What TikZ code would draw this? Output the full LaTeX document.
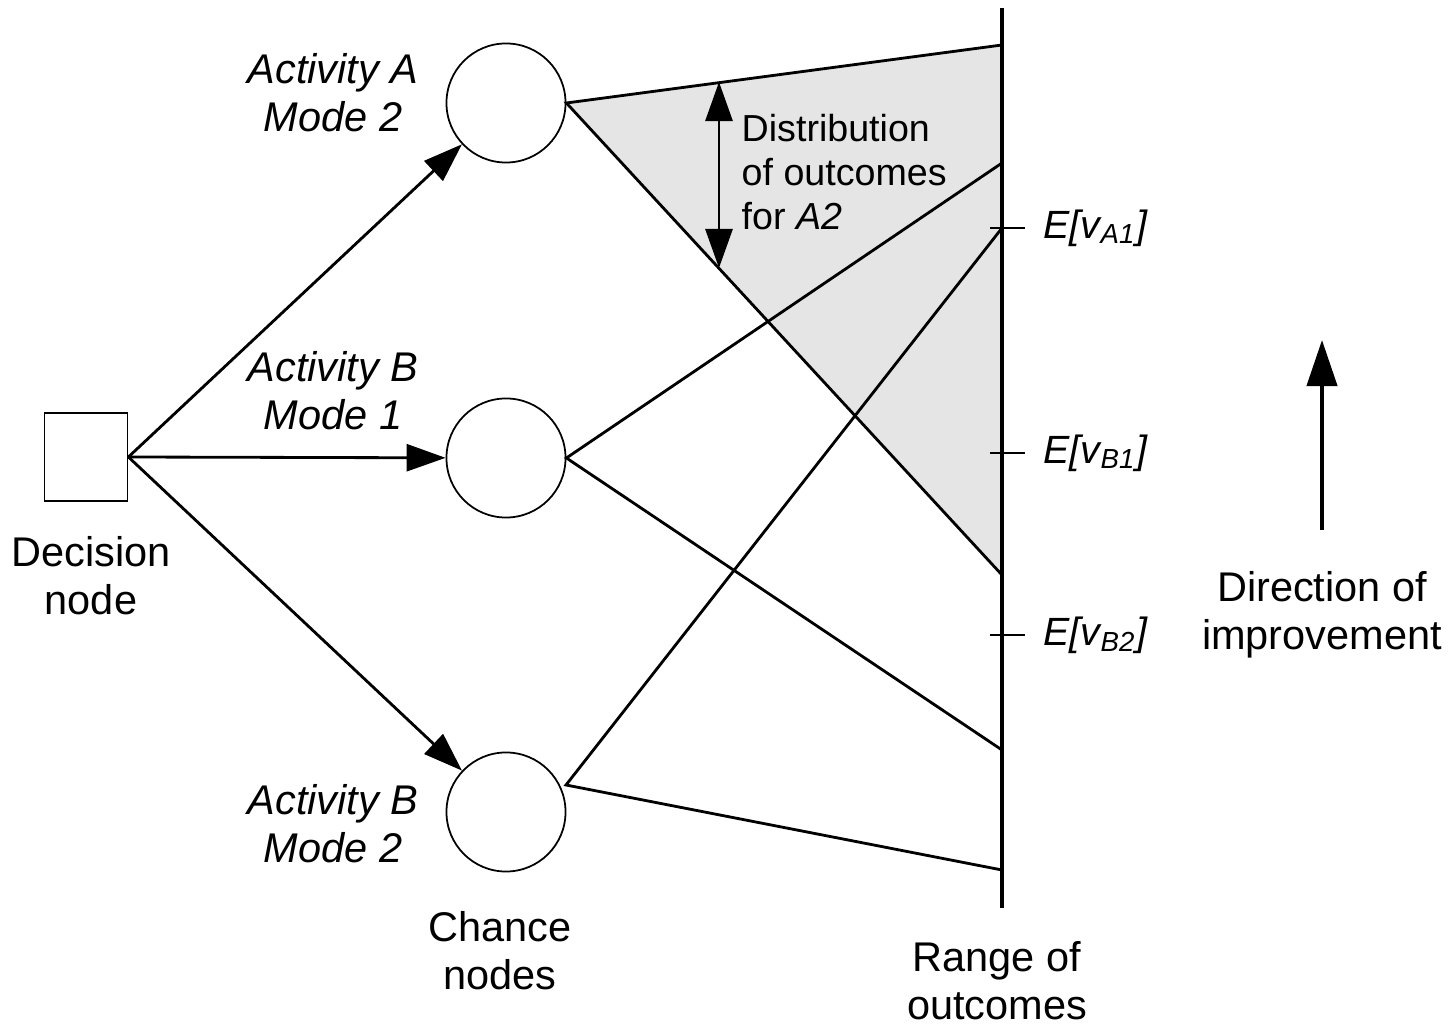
\documentclass[tikz,border=0pt]{standalone}
\usepackage{fontspec}
\setmainfont{Liberation Sans}
\usetikzlibrary{arrows.meta,calc}
\tikzset{
  decision/.style={
      draw,
      line width=0.5pt,
      rectangle,
      minimum width=0.83cm,
      minimum height=0.88cm,
      inner sep=0pt
  },
  chance/.style={
      draw,
      line width=0.5pt,
      circle,
      minimum size=1.19cm,
      inner sep=0pt
  },
  branch/.style={line width=0.8pt},
  choice/.style={branch,-{Triangle[length=3.9mm,width=2.7mm]}},
  axis/.style={line width=1.2pt},
  txt/.style={inner sep=0pt,align=center,font=\fontsize{11.8pt}{13.7pt}\selectfont},
  act/.style={txt,font=\fontsize{11.8pt}{13.7pt}\selectfont\itshape},
  outcome/.style={act,anchor=west,font=\fontsize{11.2pt}{13.7pt}\selectfont\itshape}
}

\begin{document}
\begin{tikzpicture}[x=0.01cm,y=-0.01cm]
	\useasboundingbox (0,0) rectangle (1451,1028);
	% decision and chance nodes
	\node[decision] (dec) at (86,457) {};
	\node[chance] (cA2) at (506,103) {};
	\node[chance] (cB1) at (506,458) {};
	\node[chance] (cB2) at (506,812) {};
	% range of outcomes
	\coordinate (top) at (1002,8);
	\coordinate (bot) at (1002,908);
	\coordinate (A2hi) at (1002,45);
	\coordinate (A2lo) at (1002,575);
	\coordinate (B1hi) at (1002,163);
	\coordinate (B1lo) at (1002,750);
	\coordinate (B2hi) at (1002,228);
	\coordinate (B2lo) at (1002,870);
	\coordinate (B2out) at (566,785);
	\fill[black!10] (cA2.east) -- (A2hi) -- (A2lo) -- cycle;
	\draw[branch] (A2hi) -- (cA2.east) -- (A2lo);
	\draw[branch] (B1hi) -- (cB1.east) -- (B1lo);
	\draw[branch] (B2hi) -- (B2out) -- (B2lo);
	\draw[axis] (top) -- (bot);
	\foreach \y/\sub in {228/A1,453/B1,635/B2}{
		\draw[branch] (990,\y) -- (1025,\y);
		\node[outcome] (e\sub) at (1043,\y) {E[v\textsubscript{\sub}]};
	}
	% choices
	\draw[choice] (dec.east) -- (cA2);
	\draw[choice] (dec.east) -- (cB1);
	\draw[choice] (dec.east) -- (cB2);
	\node[act] (actA2) at (333,93) {Activity A\\Mode 2};
	\node[act] (actB1) at (333,391) {Activity B\\Mode 1};
	\node[act] (actB2) at (333,824) {Activity B\\Mode 2};
	% distribution
	\coordinate (distTop) at (719,82);
	\coordinate (distBot) at (719,268);
	\draw[branch,{Triangle[length=3.9mm,width=2.7mm]}-{Triangle[length=3.9mm,width=2.7mm]}] (distTop) -- (distBot);
	\node[txt,anchor=west,align=left,font=\fontsize{10.7pt}{12.6pt}\selectfont] (dist) at (741,172) {Distribution\\of outcomes\\for \textit{A2}};
	% direction of improvement
	\coordinate (impLow) at (1322,530);
	\coordinate (impHigh) at (1322,340);
	\draw[axis,-{Triangle[length=4.6mm,width=3mm]}] (impLow) -- (impHigh);
	\node[txt] (dir) at (1322,615) {Direction of\\improvement};
	% captions
	\node[txt] (decLab) at (91,576) {Decision\\node};
	\node[txt] (chLab) at (500,951) {Chance\\nodes};
	\node[txt] (rngLab) at (997,981) {Range of\\outcomes};
\end{tikzpicture}
\end{document}
